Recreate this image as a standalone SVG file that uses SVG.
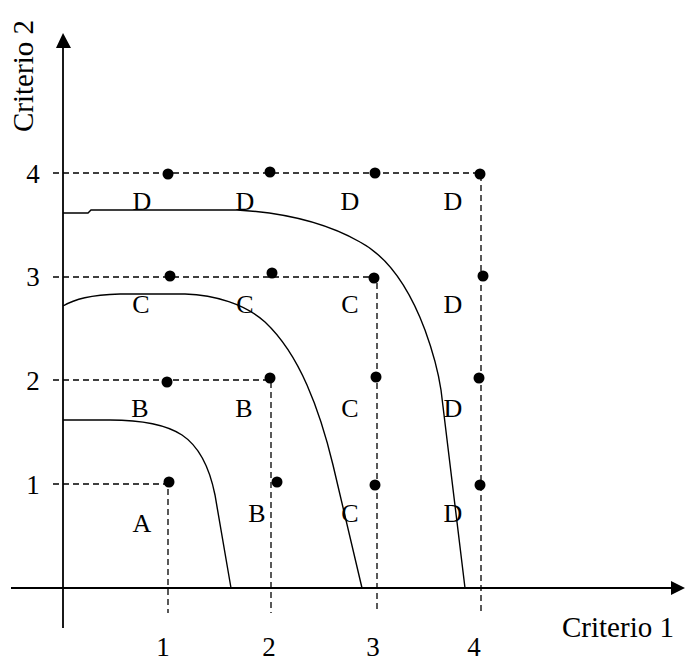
<svg xmlns="http://www.w3.org/2000/svg" width="686" height="664" viewBox="0 0 686 664">
<style>
text{font-family:"Liberation Serif","Times New Roman",serif;fill:#000}
.lab{font-size:26px;text-anchor:middle}
.tick{font-size:27px;text-anchor:middle}
.title{font-size:29px}
.axis{stroke:#000;stroke-width:1.8;fill:none}
.dash{stroke:#000;stroke-width:1.3;stroke-dasharray:6 4;fill:none}
.curve{stroke:#000;stroke-width:1.4;fill:none}
.dot{fill:#000}
</style>
<rect width="686" height="664" fill="#fff"/>
<g id="grid">
<path class="dash" d="M53,173 H481 V613"/>
<path class="dash" d="M53,277 H377 V613"/>
<path class="dash" d="M53,380 H271 V613"/>
<path class="dash" d="M53,484 H168 V613"/>
</g>
<g id="axes">
<line class="axis" x1="63" y1="46" x2="63" y2="628"/>
<line class="axis" x1="11" y1="588" x2="674" y2="588"/>
<polygon points="63,33 56,48 71,48" fill="#000"/>
<polygon points="685,588 671,581 671,595" fill="#000"/>
</g>
<g id="connectors">
<path class="curve" d="M63,420 H110 C140,420 165,424 182,435 C200,447 210,470 215,495 L231,588"/>
<path class="curve" d="M63,306 C75,299 90,295 120,294 H185 C215,295 245,304 265,322 C282,338 296,360 307,385 C318,410 327,440 333,465 L362,588"/>
<path class="curve" d="M63,213 H88 L91,210 H237 C290,213 330,225 360,242 C390,258 410,290 425,330 C433,352 438,370 441,390 L465,588"/>
</g>
<g id="dots">
<circle class="dot" cx="168" cy="174" r="5.5"/>
<circle class="dot" cx="270" cy="172" r="5.5"/>
<circle class="dot" cx="375" cy="173" r="5.5"/>
<circle class="dot" cx="480" cy="174" r="5.5"/>
<circle class="dot" cx="170" cy="276" r="5.5"/>
<circle class="dot" cx="272" cy="273" r="5.5"/>
<circle class="dot" cx="374" cy="278" r="5.5"/>
<circle class="dot" cx="483" cy="276" r="5.5"/>
<circle class="dot" cx="167" cy="382" r="5.5"/>
<circle class="dot" cx="270" cy="378" r="5.5"/>
<circle class="dot" cx="376" cy="377" r="5.5"/>
<circle class="dot" cx="479" cy="378" r="5.5"/>
<circle class="dot" cx="169" cy="482" r="5.5"/>
<circle class="dot" cx="277" cy="482" r="5.5"/>
<circle class="dot" cx="375" cy="485" r="5.5"/>
<circle class="dot" cx="480" cy="485" r="5.5"/>
</g>
<g id="region-labels">
<text class="lab" x="142" y="210">D</text>
<text class="lab" x="245" y="210">D</text>
<text class="lab" x="350" y="210">D</text>
<text class="lab" x="453" y="210">D</text>
<text class="lab" x="141" y="313">C</text>
<text class="lab" x="245" y="313">C</text>
<text class="lab" x="350" y="313">C</text>
<text class="lab" x="453" y="313">D</text>
<text class="lab" x="140" y="417">B</text>
<text class="lab" x="244" y="417">B</text>
<text class="lab" x="350" y="417">C</text>
<text class="lab" x="453" y="417">D</text>
<text class="lab" x="142" y="532">A</text>
<text class="lab" x="257" y="522">B</text>
<text class="lab" x="350" y="522">C</text>
<text class="lab" x="453" y="522">D</text>
</g>
<g id="y-ticks">
<text class="tick" x="33" y="183">4</text>
<text class="tick" x="33" y="286">3</text>
<text class="tick" x="33" y="390">2</text>
<text class="tick" x="33" y="494">1</text>
</g>
<g id="x-ticks">
<text class="tick" x="163" y="656">1</text>
<text class="tick" x="269" y="656">2</text>
<text class="tick" x="373" y="656">3</text>
<text class="tick" x="474" y="656">4</text>
</g>
<g id="axis-titles">
<text class="title" x="562" y="637">Criterio 1</text>
<text class="title" transform="translate(33,132) rotate(-90)">Criterio 2</text>
</g>
</svg>
